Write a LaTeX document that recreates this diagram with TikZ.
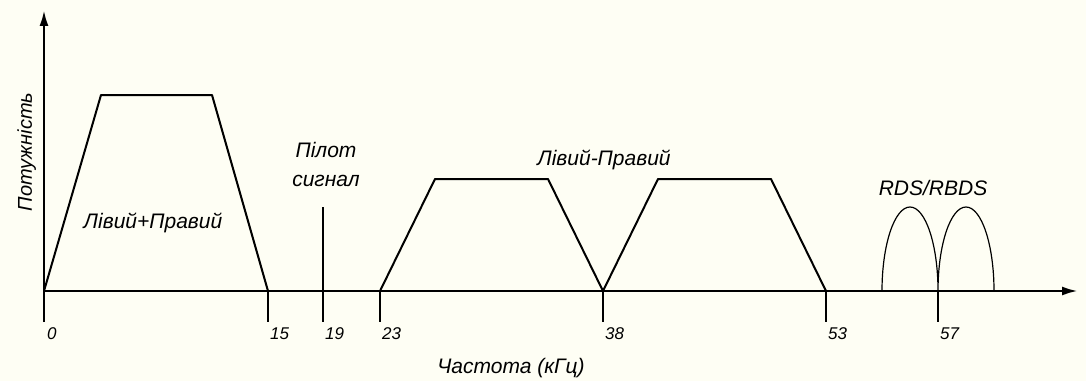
\documentclass[tikz,border=0pt]{standalone}
\usepackage{fontspec}
\setmainfont{Liberation Sans}
\usepackage{xcolor}
\definecolor{Paper}{HTML}{FEFEF4}
\colorlet{paper}{Paper}
\usepackage{tikz}
\usetikzlibrary{arrows.meta,positioning}

\begin{document}
\begin{tikzpicture}[x=1pt,y=1pt,every node/.style={font=\itshape\fontsize{21}{29}\selectfont,inner sep=0pt,align=center},band/.style={line width=2pt,line join=round},axis/.style={line width=2.6pt},tip/.style={-{Latex[length=16pt,width=9pt]}},num/.style={anchor=base west,font=\itshape\fontsize{17}{20}\selectfont}]
\fill[paper] (-44,-90) rectangle (1042,291);
\useasboundingbox (-44,-90) rectangle (1042,291);
% axes
\coordinate (o) at (0,0);\coordinate (ybot) at (0,-31);\coordinate (ytop) at (0,281);\coordinate (xend) at (1034,0);
\draw[axis,tip] (ybot)--(ytop);\draw[axis,tip] (o)--(xend);
\node[num] (t0) at (3,-48) {0};
\foreach \x/\t in {224/15,279/19,336/23,559/38,782/53,894/57}{\draw[axis] (\x,0) coordinate (f\t) -- (\x,-31) coordinate (b\t);\node[num] (t\t) at (\x+2,-48) {\t};}
% bands
\draw[band] (o)--(57,196)--(168,196)--(f15);
\draw[band] (f23)--(391,112)--(504,112)--(f38);
\draw[band] (f38)--(614,112)--(727,112)--(f53);
\draw[band] (f19)--(279,84) coordinate (pilot);
\draw[line width=1.2pt] (838,0) arc[start angle=180,end angle=0,x radius=28,y radius=84] arc[start angle=180,end angle=0,x radius=28,y radius=84];
% labels
\node[rotate=90,anchor=base,font=\itshape\fontsize{20}{24}\selectfont] (power) at (-12,139) {Потужність};
\node[anchor=base] (sum) at (109,63) {Лівий+Правий};
\node[above=20pt of pilot,xshift=3pt] (pil) {Пілот\\сигнал};
\node[anchor=base] (diff) at (560,126) {Лівий-Правий};
\node[anchor=base] (rds) at (889,96) {RDS/RBDS};
\node[anchor=base] (freq) at (467,-82) {Частота (кГц)};
\end{tikzpicture}
\end{document}
